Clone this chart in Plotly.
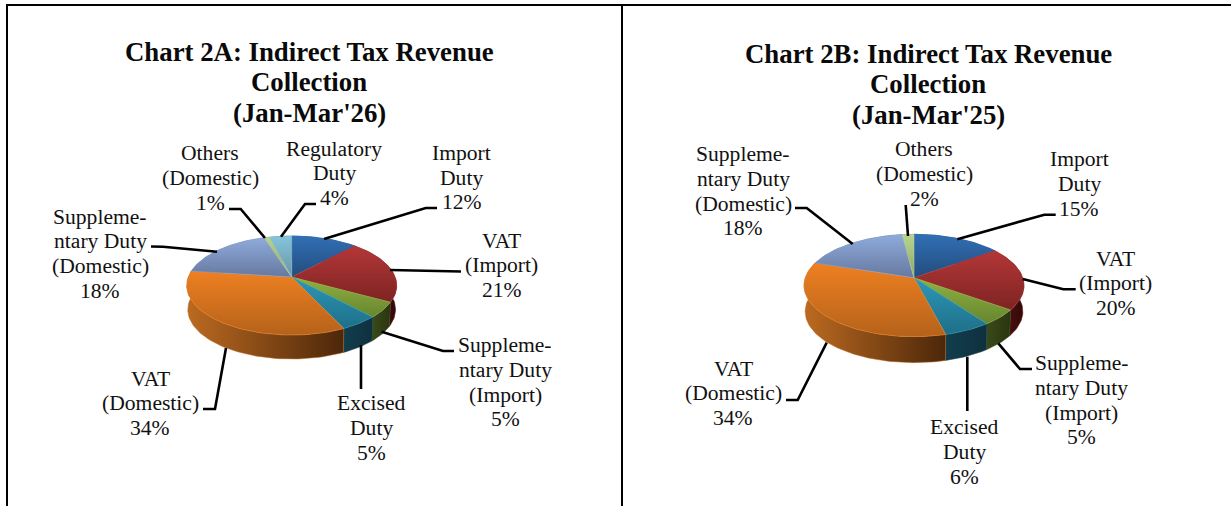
import math
import plotly.graph_objects as go

categories = ["Import Duty", "VAT (Import)", "Supplementary Duty (Import)", "Excised Duty",
              "VAT (Domestic)", "Supplementary Duty (Domestic)", "Others (Domestic)", "Regulatory Duty"]
values_a = [12, 21, 5, 5, 34, 18, 1, 4]
values_b = [15, 20, 5, 6, 34, 18, 2, 0]

title_a = ["Chart 2A: Indirect Tax Revenue", "Collection", "(Jan-Mar'26)"]
title_b = ["Chart 2B: Indirect Tax Revenue", "Collection", "(Jan-Mar'25)"]

top_colors = [("#316fb6", "#234c7c"), ("#b43737", "#7e2323"), ("#8fb240", "#668530"),
              ("#2b98b8", "#1f6f88"), ("#ee8022", "#b5621a"), ("#8fabdb", "#66799f"),
              ("#b9d48f", "#8ea66a"), ("#86c5da", "#6a93a8")]
side_colors = [("#1d3d63", "#1d3d63"), ("#5e1414", "#330808"), ("#3a4a1a", "#2a3510"),
               ("#123e4e", "#0f303e"), ("#bc6a20", "#4c270a"), ("#55658a", "#55658a"),
               ("#7a8c5a", "#7a8c5a"), ("#4f7f90", "#4f7f90")]

label_lines = [["Import", "Duty"], ["VAT", "(Import)"], ["Suppleme-", "ntary Duty", "(Import)"],
               ["Excised", "Duty"], ["VAT", "(Domestic)"], ["Suppleme-", "ntary Duty", "(Domestic)"],
               ["Others", "(Domestic)"], ["Regulatory", "Duty"]]

# chart A / chart B pie geometry
geom_a = dict(cx=291.7, cy=277.0, R=103.4, S=48.05, k=0.172, depth=24)
geom_b = dict(cx=914.0, cy=277.7, R=108.7, S=50.0, k=0.152, depth=26)

# label placement: centre x, first-line y
label_pos_a = [(461.7, 152.7), (501.7, 240.5), (505, 345), (371.7, 403),
               (150, 378.5), (100, 216.5), (210, 153), (334, 148.5)]
label_pos_b = [(1079, 159), (1115.7, 258.5), (1081.7, 363), (964, 427),
               (733, 368.5), (743, 154), (924, 149), None]

leaders_a = [[(324, 239), (425.7, 208), (437, 208)],
             [(390, 270), (446.7, 271.3), (461, 271.5)],
             [(381.7, 331.7), (443, 351), (454, 351)],
             [(361, 345), (361, 389)],
             [(226, 348), (215, 409), (203, 409)],
             [(217, 251.7), (163, 246.7), (151, 246.5)],
             [(265, 238), (240.7, 209), (229, 209)],
             [(281, 236.7), (305, 204), (316, 204)]]
leaders_b = [[(957.3, 239.3), (1044.3, 214.7), (1055.7, 214.7)],
             [(1022.7, 279), (1063.3, 289.3), (1075.7, 289.3)],
             [(998.3, 343.3), (1020, 369), (1032, 369)],
             [(967.3, 356.7), (967.3, 411)],
             [(826.7, 342.7), (797.7, 400), (786, 400)],
             [(852.7, 244), (806.7, 208), (795, 208)],
             [(908, 236), (905.7, 205)],
             None]

FONT = "Liberation Serif"
LABEL_SIZE = 21.6
LABEL_STEP = 24.8
TITLE_SIZE = 26.8
TITLE_STEP = 30.4

fig = go.Figure()


def rim(g, theta, drop=0.0, scale=1.0):
    u, v = math.sin(theta), math.cos(theta)
    w = 1 + g["k"] * v
    return g["cx"] + scale * g["R"] * u / w, g["cy"] - g["S"] * v / w + drop


def arc(g, a0, a1, drop=0.0, scale=1.0):
    n = max(2, int(abs(a1 - a0) / math.radians(1.5)) + 1)
    return [rim(g, a0 + (a1 - a0) * i / n, drop, scale) for i in range(n + 1)]


def filled(points, c0, c1, kind):
    xs = [p[0] for p in points] + [points[0][0]]
    ys = [p[1] for p in points] + [points[0][1]]
    vals = xs if kind == "horizontal" else ys
    fig.add_trace(go.Scatter(
        x=xs, y=ys, mode="lines", fill="toself",
        line=dict(width=0.5, color=c0),
        fillgradient=dict(type=kind, colorscale=[[0, c0], [1, c1]], start=min(vals), stop=max(vals)),
        hoverinfo="skip", showlegend=False))


def draw_pie(g, values):
    total = sum(values)
    spans, acc = [], 0
    for v in values:
        spans.append((2 * math.pi * acc / total, 2 * math.pi * (acc + v) / total))
        acc += v
    for (a0, a1), v, col in zip(spans, values, side_colors):
        if v:
            upper = arc(g, a0, a1)
            lower = arc(g, a0, a1, g["depth"], 0.99)
            filled(upper + lower[::-1], col[0], col[1],
                   "horizontal")
    for (a0, a1), v, col in zip(spans, values, top_colors):
        if v:
            filled([(g["cx"], g["cy"])] + arc(g, a0, a1), col[0], col[1], "vertical")


def draw_labels(values, positions, leaders):
    for v, lines, pos, lead in zip(values, label_lines, positions, leaders):
        if not v:
            continue
        for i, t in enumerate(lines + [f"{v}%"]):
            fig.add_annotation(x=pos[0], y=pos[1] + i * LABEL_STEP, text=t, showarrow=False,
                               xanchor="center", yanchor="middle",
                               font=dict(family=FONT, size=LABEL_SIZE, color="#111111"))
        fig.add_trace(go.Scatter(x=[p[0] for p in lead], y=[p[1] for p in lead], mode="lines",
                                 line=dict(color="black", width=2.6), hoverinfo="skip", showlegend=False))


def draw_title(lines, x, y0):
    for i, t in enumerate(lines):
        fig.add_annotation(x=x, y=y0 + i * TITLE_STEP, text=f"<b>{t}</b>", showarrow=False,
                           xanchor="center", yanchor="middle",
                           font=dict(family=FONT, size=TITLE_SIZE, color="#0a0a0a"))


draw_pie(geom_a, values_a)
draw_pie(geom_b, values_b)
draw_labels(values_a, label_pos_a, leaders_a)
draw_labels(values_b, label_pos_b, leaders_b)
draw_title(title_a, 309, 52)
draw_title(title_b, 928, 54)

border = dict(type="line", line=dict(color="black", width=2), xref="x", yref="y")
fig.update_layout(
    width=1231, height=506, margin=dict(l=0, r=0, t=0, b=0),
    paper_bgcolor="white", plot_bgcolor="white", showlegend=False,
    xaxis=dict(range=[0, 1231], visible=False, fixedrange=True),
    yaxis=dict(range=[506, 0], visible=False, fixedrange=True),
    shapes=[dict(border, x0=6, x1=1231, y0=5, y1=5),
            dict(border, x0=7, x1=7, y0=5, y1=506),
            dict(border, x0=622, x1=622, y0=5, y1=506)],
)
fig.write_html("out.html", config=dict(displayModeBar=False),
               post_script="document.body.style.margin='0';document.body.style.overflow='hidden';")
